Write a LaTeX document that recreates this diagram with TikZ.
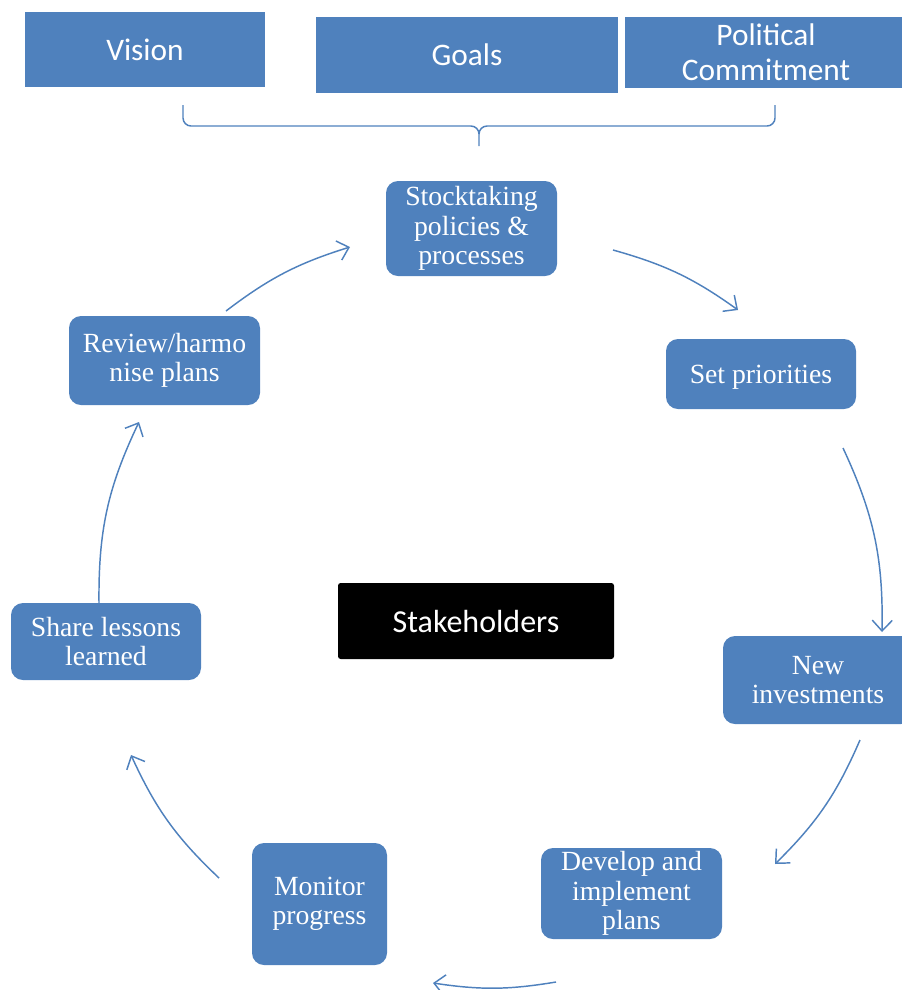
\documentclass[tikz,border=0pt]{standalone}
\usepackage{fontspec}
\setmainfont{Liberation Serif}
\newfontfamily\calibri{Carlito}
\usepackage{tikz}
\usetikzlibrary{arrows.meta}
\definecolor{officeblue}{HTML}{4F81BD}

\begin{document}
\begin{tikzpicture}[x=0.75pt,y=-0.75pt]
	\tikzstyle{step-box}
	  =[fill=officeblue, rounded corners=9pt, text=white, align=center,
	  font=\fontsize{20.8}{22}\selectfont, inner sep=0pt,
	  execute at begin node={\rule{0pt}{18.5pt}}]
	\tikzstyle{top-box}
	  =[fill=officeblue, text=white, align=center,
	  font=\calibri\fontsize{23.5}{26}\selectfont, inner sep=0pt]
	\tikzstyle{cycle-arrow}
	  =[draw=officeblue, line width=1.1pt,
	  -{Straight Barb[length=8pt,width=15pt]}]

	\useasboundingbox (0,0) rectangle (901,990);

	% top row
	\node[top-box, minimum width=180pt, minimum height=56.25pt] (vision)
	  at (145,49.5) {Vision};
	\node[top-box, minimum width=226.5pt, minimum height=57pt] (goals)
	  at (467,55) {Goals};
	\node[top-box, minimum width=211.5pt, minimum height=53.25pt] (commit)
	  at (766,52.5) {Political\\Commitment};

	% brace
	\draw[officeblue, line width=1.1pt, rounded corners=6pt]
	  (183,105) -- (183,126) -- (479,126) -- (479,146)
	  (775,105) -- (775,126) -- (479,126) -- (479,146);

	% centre
	\node[top-box, fill=black, rounded corners=2pt, minimum width=207pt,
	  minimum height=57pt, font=\calibri\fontsize{24}{26}\selectfont] (stake)
	  at (476,621) {Stakeholders};

	% cycle
	\node[step-box, minimum width=128.25pt, minimum height=71.25pt] (stock)
	  at (471.5,228.5) {Stocktaking\\policies \&\\processes};
	\node[step-box, minimum width=142.5pt, minimum height=52.5pt] (prio)
	  at (761,374) {Set priorities};
	\node[step-box, minimum width=142.5pt, minimum height=66pt] (invest)
	  at (818,680) {New\\investments};
	\node[step-box, minimum width=135.75pt, minimum height=68.25pt] (develop)
	  at (631.5,893.5) {Develop and\\implement\\plans};
	\node[step-box, minimum width=101.25pt, minimum height=91.5pt] (monitor)
	  at (319.5,904) {Monitor\\progress};
	\node[step-box, minimum width=142.5pt, minimum height=57.75pt] (share)
	  at (106,641.5) {Share lessons\\learned};
	\node[step-box, minimum width=143.25pt, minimum height=66.75pt] (review)
	  at (164.5,360.5) {Review/harmo\\nise plans};

	% arrow ends
	\coordinate (a1) at (613,250); \coordinate (b1) at (738,310);
	\coordinate (a2) at (843,448); \coordinate (b2) at (882,632);
	\coordinate (a3) at (860,740); \coordinate (b3) at (775,864);
	\coordinate (a4) at (556,982); \coordinate (b4) at (433,983);
	\coordinate (a5) at (219,878); \coordinate (b5) at (131,755);
	\coordinate (a6) at (99,603);  \coordinate (b6) at (139,422);
	\coordinate (a7) at (226,311); \coordinate (b7) at (350,247);

	\draw[cycle-arrow] (a1) to[bend left=10] (b1);
	\draw[cycle-arrow] (a2) to[bend left=13] (b2);
	\draw[cycle-arrow] (a3) to[bend left=11] (b3);
	\draw[cycle-arrow] (a4) to[bend left=9] (b4);
	\draw[cycle-arrow] (a5) to[bend left=11] (b5);
	\draw[cycle-arrow] (a6) to[bend left=13] (b6);
	\draw[cycle-arrow] (a7) to[bend left=10] (b7);
\end{tikzpicture}
\end{document}
